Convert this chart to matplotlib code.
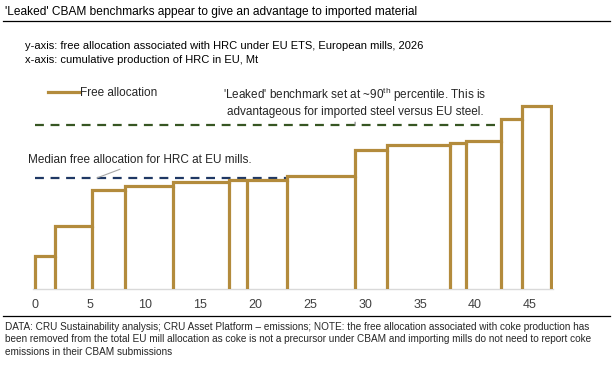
import numpy as np
import matplotlib.pyplot as plt
from matplotlib.lines import Line2D

plt.rcParams['font.family'] = ['Liberation Sans', 'DejaVu Sans']
plt.rcParams['mathtext.fontset'] = 'custom'
plt.rcParams['mathtext.rm'] = 'Liberation Sans'

# cumulative production edges (Mt) and free allocation per step
edges = [0.0, 1.8, 5.2, 8.2, 12.5, 17.6, 19.3, 22.9, 29.1, 32.0, 37.7, 39.2, 42.4, 44.3, 46.9]
alloc = [0.33, 0.63, 0.99, 1.03, 1.07, 1.09, 1.09, 1.135, 1.385, 1.44, 1.46, 1.48, 1.70, 1.83]
median_alloc = 1.11
benchmark = 1.635
xticks = [0, 5, 10, 15, 20, 25, 30, 35, 40, 45]

LINE = '#B38B3C'

fig = plt.figure(figsize=(6.13, 3.65), dpi=100)
ax = fig.add_axes([33 / 613, 76 / 365, 520 / 613, 209 / 365])

ax.stairs(alloc, edges, baseline=0, color=LINE, lw=2.3, zorder=3)
inner = [min(alloc[i - 1], alloc[i]) for i in range(1, len(alloc))]
ax.vlines(edges[1:-1], 0, inner, color=LINE, lw=2.3, zorder=3)

ax.hlines(median_alloc, 0, edges[7], color='#1F3864', lw=1.6, linestyles=(0, (4, 3)), zorder=2)
ax.hlines(benchmark, 0, edges[12], color='#375623', lw=1.6, linestyles=(0, (4, 3)), zorder=2)

ax.annotate('Median free allocation for HRC at EU mills.', xy=(5.6, median_alloc),
            xytext=(-0.65, 1.29), fontsize=8.5, color='#262626', va='center', ha='left',
            arrowprops=dict(arrowstyle='-', color='#A6A6A6', lw=0.8,
                            relpos=(0.45, 0.0), shrinkA=1, shrinkB=0))
ax.annotate("'Leaked' benchmark set at ~90$^{\\mathrm{th}}$ percentile. This is\n"
            "advantageous for imported steel versus EU steel.",
            xy=(29.1, benchmark), xytext=(29.1, 1.87), fontsize=8.5, color='#262626',
            ha='center', va='center', linespacing=1.2,
            arrowprops=dict(arrowstyle='-', color='#7F7F7F', lw=0.8, shrinkA=1, shrinkB=0))

ax.set_xlim(-0.2, 47.1)
ax.set_ylim(0, 2.09)
ax.set_xticks(xticks)
ax.tick_params(axis='x', length=0, labelsize=9, colors='#404040', pad=7)
ax.set_yticks([])
for s in ['top', 'left', 'right']:
    ax.spines[s].set_visible(False)
ax.spines['bottom'].set_color('#D9D9D9')
ax.spines['bottom'].set_linewidth(1.0)

ax.legend([Line2D([0], [0], color=LINE, lw=2.3)], ['Free allocation'],
          loc='upper left', bbox_to_anchor=(8 / 520, 1.0), frameon=False,
          fontsize=8.5, handlelength=2.6, handletextpad=0.1, borderaxespad=0.2,
          labelcolor='#262626')

fig.text(5 / 613, 1 - 12 / 365, "'Leaked' CBAM benchmarks appear to give an advantage to imported material",
         fontsize=8.6, va='center', ha='left', color='black')
fig.add_artist(Line2D([3 / 613, 610 / 613], [1 - 21 / 365] * 2, color='black', lw=0.9))
fig.text(25 / 613, 1 - 46 / 365, 'y-axis: free allocation associated with HRC under EU ETS, European mills, 2026',
         fontsize=8, va='center', ha='left', color='black')
fig.text(25 / 613, 1 - 60 / 365, 'x-axis: cumulative production of HRC in EU, Mt',
         fontsize=8, va='center', ha='left', color='black')

fig.add_artist(Line2D([3 / 613, 610 / 613], [1 - 316 / 365] * 2, color='black', lw=0.9))
fig.text(5 / 613, 1 - 322 / 365,
         'DATA: CRU Sustainability analysis; CRU Asset Platform \u2013 emissions; NOTE: the free allocation associated with coke production has\n'
         'been removed from the total EU mill allocation as coke is not a precursor under CBAM and importing mills do not need to report coke\n'
         'emissions in their CBAM submissions',
         fontsize=7.2, va='top', ha='left', color='#262626', linespacing=1.3)

fig.savefig('out.png', dpi=100)
